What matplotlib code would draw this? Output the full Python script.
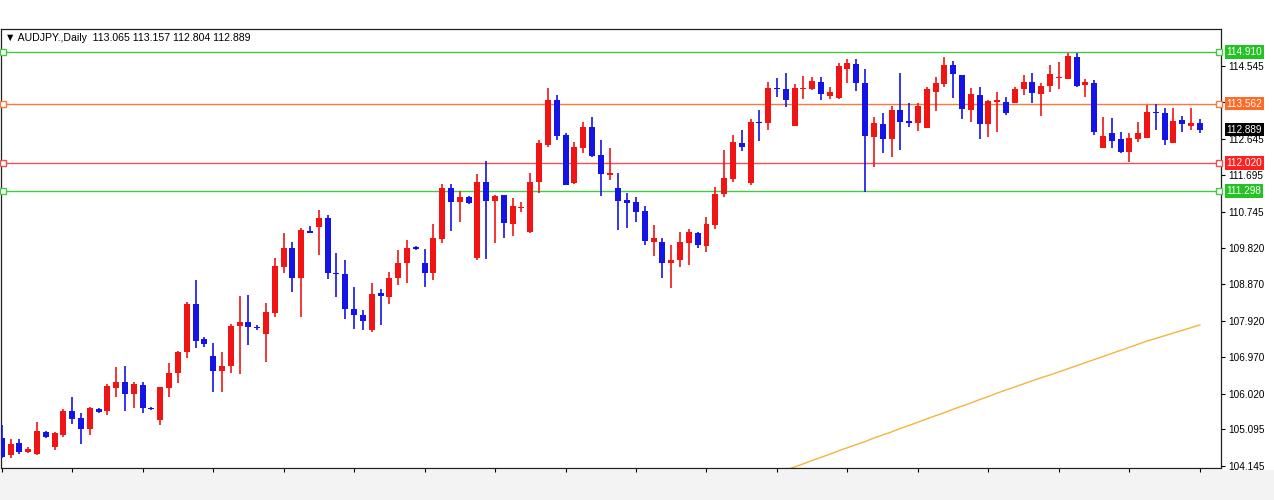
import numpy as np
import matplotlib.pyplot as plt
from matplotlib.patches import Rectangle
from matplotlib.transforms import blended_transform_factory

plt.rcParams['font.family'] = ['Liberation Sans', 'DejaVu Sans']

# AUDJPY daily bars (open, high, low, close)
opens = [104.87, 104.43, 104.74, 104.51, 104.46, 105.03, 104.64, 104.95, 105.57, 105.39,
         105.11, 105.63, 105.57, 106.17, 106.33, 106.02, 106.25, 105.65, 105.34, 106.17,
         106.56, 107.11, 108.36, 107.45, 107.00, 106.61, 106.74, 107.78, 107.89, 107.76,
         107.58, 108.12, 109.32, 109.81, 109.03, 110.25, 110.36, 110.59, 109.16, 109.14,
         108.23, 108.07, 107.68, 108.64, 108.54, 109.03, 109.42, 109.84, 109.42, 109.16,
         110.05, 111.37, 111.01, 111.14, 109.55, 111.53, 111.03, 111.19, 110.44, 110.85,
         110.23, 111.53, 112.49, 113.66, 112.75, 111.50, 112.41, 112.96, 112.23, 111.71,
         111.37, 111.06, 111.01, 110.77, 109.97, 109.97, 109.42, 109.50, 109.94, 110.20,
         109.86, 110.41, 111.22, 111.61, 112.54, 111.50, 113.09, 113.06, 113.97, 113.95,
         112.98, 113.95, 113.95, 114.13, 113.76, 113.71, 114.47, 114.60, 114.10, 112.70,
         113.04, 112.65, 113.40, 113.11, 113.06, 112.93, 113.87, 114.08, 114.57, 114.31,
         113.40, 113.79, 113.04, 113.61, 113.61, 113.58, 113.95, 114.13, 113.82, 114.02,
         114.23, 114.21, 114.78, 114.05, 114.10, 112.41, 112.80, 112.65, 112.31, 112.65,
         112.67, 113.35, 113.32, 112.54, 113.14, 112.98, 113.065]
highs = [105.21, 104.85, 104.85, 104.64, 105.29, 105.05, 105.03, 105.63, 105.94, 105.52,
         105.68, 105.66, 106.28, 106.72, 106.74, 106.33, 106.33, 105.68, 106.20, 106.82,
         107.13, 108.41, 108.98, 107.50, 107.34, 107.11, 107.84, 108.56, 108.59, 107.81,
         108.38, 109.55, 110.20, 109.97, 110.33, 110.38, 110.80, 110.67, 109.68, 109.50,
         108.80, 108.20, 108.90, 108.75, 109.19, 109.76, 110.02, 109.87, 109.79, 110.44,
         111.48, 111.48, 111.29, 111.17, 111.74, 112.07, 111.19, 111.19, 111.11, 111.01,
         111.76, 112.62, 113.97, 113.79, 112.80, 112.57, 113.09, 113.22, 112.62, 112.41,
         111.76, 111.24, 111.14, 110.90, 110.41, 110.07, 109.89, 110.23, 110.31, 110.23,
         110.62, 111.40, 112.36, 112.75, 112.88, 113.17, 113.40, 114.13, 114.23, 114.36,
         114.08, 114.28, 114.26, 114.26, 114.00, 114.62, 114.73, 114.73, 114.47, 113.22,
         113.32, 113.50, 114.36, 113.58, 113.58, 114.00, 114.26, 114.78, 114.67, 114.31,
         113.97, 114.00, 113.66, 113.87, 113.74, 114.00, 114.31, 114.36, 114.10, 114.57,
         114.65, 114.88, 114.88, 114.21, 114.18, 113.22, 113.19, 112.83, 112.80, 113.09,
         113.53, 113.56, 113.45, 113.45, 113.24, 113.45, 113.157]
lows = [104.35, 104.35, 104.46, 104.48, 104.43, 104.88, 104.56, 104.90, 105.24, 104.72,
        104.95, 105.52, 105.47, 105.94, 105.57, 105.65, 105.52, 105.60, 105.21, 105.94,
        106.30, 106.95, 107.21, 107.24, 106.07, 106.07, 106.56, 106.54, 107.29, 107.68,
        106.85, 108.02, 109.16, 108.67, 108.02, 110.20, 109.63, 109.01, 108.54, 107.97,
        107.71, 107.68, 107.63, 107.81, 108.36, 108.85, 108.90, 109.76, 108.80, 108.98,
        109.94, 110.25, 110.49, 110.96, 109.50, 109.52, 109.94, 110.07, 110.12, 110.75,
        110.20, 111.24, 112.44, 112.62, 111.45, 111.48, 112.28, 112.18, 111.16, 111.58,
        110.28, 110.33, 110.49, 109.89, 109.60, 109.03, 108.77, 109.32, 109.37, 109.81,
        109.71, 110.31, 111.14, 111.53, 112.33, 111.45, 112.59, 112.88, 113.74, 113.48,
        112.98, 113.69, 113.92, 113.66, 113.69, 113.69, 114.10, 113.89, 111.27, 111.92,
        112.28, 112.18, 112.36, 112.96, 112.85, 112.93, 113.37, 114.00, 113.71, 113.17,
        113.09, 112.65, 112.70, 112.83, 113.27, 113.58, 113.79, 113.58, 113.24, 113.87,
        113.95, 114.21, 114.00, 113.74, 112.75, 112.41, 112.41, 112.28, 112.05, 112.57,
        112.67, 112.88, 112.49, 112.54, 112.83, 112.88, 112.804]
closes = [104.38, 104.72, 104.51, 104.59, 105.05, 104.90, 105.00, 105.57, 105.37, 105.11,
          105.65, 105.55, 106.22, 106.33, 106.02, 106.28, 105.65, 105.63, 106.20, 106.56,
          107.11, 108.36, 107.39, 107.32, 106.61, 106.74, 107.78, 107.89, 107.76, 107.73,
          108.15, 109.34, 109.81, 109.03, 110.28, 110.20, 110.59, 109.16, 109.14, 108.23,
          108.07, 107.91, 108.62, 108.56, 109.03, 109.42, 109.81, 109.79, 109.16, 110.07,
          111.37, 111.01, 111.14, 110.98, 111.53, 111.03, 111.16, 110.46, 110.90, 110.88,
          111.53, 112.54, 113.66, 112.72, 111.45, 112.44, 112.96, 112.20, 111.74, 111.76,
          111.03, 110.98, 110.75, 109.99, 110.07, 109.42, 109.50, 109.97, 110.23, 109.89,
          110.44, 111.22, 111.63, 112.57, 112.44, 113.09, 113.06, 113.97, 113.95, 113.66,
          113.97, 113.97, 114.15, 113.82, 113.87, 114.54, 114.62, 114.10, 112.72, 113.06,
          112.65, 113.40, 113.09, 113.06, 113.50, 113.95, 114.10, 114.57, 114.34, 113.43,
          113.82, 113.04, 113.63, 113.66, 113.32, 113.95, 114.13, 113.84, 114.02, 114.34,
          114.26, 114.80, 114.02, 114.13, 112.83, 112.72, 112.59, 112.31, 112.67, 112.80,
          113.35, 113.32, 112.62, 113.11, 113.04, 113.06, 112.889]

# moving average (only the visible tail, from bar 89)
ma_start = 89
ma_values = [104.04, 104.12, 104.20, 104.29, 104.37, 104.45, 104.54, 104.62, 104.70, 104.78,
             104.87, 104.95, 105.03, 105.12, 105.20, 105.28, 105.37, 105.45, 105.53, 105.62,
             105.70, 105.78, 105.87, 105.95, 106.04, 106.12, 106.20, 106.28, 106.36, 106.44,
             106.51, 106.59, 106.67, 106.75, 106.83, 106.91, 106.99, 107.07, 107.15, 107.23,
             107.31, 107.39, 107.46, 107.53, 107.60, 107.67, 107.74, 107.81]

# horizontal levels
levels = [114.910, 113.562, 112.020, 111.298]
level_line_colors = ['#46c846', '#f57a3c', '#f05050', '#46c846']
level_box_colors = ['#22c322', '#ff6a26', '#ff2020', '#22c322']

price_ticks = [114.545, 113.595, 112.645, 111.695, 110.745, 109.820, 108.870,
               107.920, 106.970, 106.020, 105.095, 104.145]
price_tick_labels = ['114.545', '', '112.645', '111.695', '110.745', '109.820', '108.870',
                     '107.920', '106.970', '106.020', '105.095', '104.145']

o = np.array(opens)
h = np.array(highs)
l = np.array(lows)
c = np.array(closes)
x = np.arange(len(o))
cols = np.where(c >= o, '#f01414', '#1414e6')

fig = plt.figure(figsize=(12.74, 5.0), dpi=100)
fig.patch.set_facecolor('white')
fig.patches.append(Rectangle((0, 0), 1, 30 / 500, transform=fig.transFigure,
                             facecolor='#f3f3f3', edgecolor='none', zorder=-5))
ax = fig.add_axes([1 / 1274, 32.5 / 500, 1220 / 1274, 438 / 500])

ax.vlines(x, l, h, colors=cols, linewidth=1.2, zorder=3)
body = np.maximum(np.abs(c - o), 0.03)
ax.bar(x, body, bottom=np.minimum(o, c), width=0.68, color=cols, linewidth=0, zorder=4)

ax.plot(np.arange(ma_start, ma_start + len(ma_values)), ma_values,
        color='#f5b43c', linewidth=1.0, zorder=2)

tr = blended_transform_factory(ax.transAxes, ax.transData)
for lev, lc, bc in zip(levels, level_line_colors, level_box_colors):
    ax.axhline(lev, color=lc, linewidth=1.0, zorder=1)
    ax.plot([0.0015, 0.9985], [lev, lev], 's', transform=tr, ms=4, mfc='white',
            mec=lc, mew=1.0, clip_on=False, zorder=5)
    ax.text(1.0045, lev, f'{lev:.3f}', transform=tr, color='white', fontsize=7.2,
            va='center', ha='left', zorder=6, clip_on=False,
            bbox=dict(boxstyle='square,pad=0.18', facecolor=bc, edgecolor='none'))

ax.text(1.0045, c[-1], f'{c[-1]:.3f}', transform=tr, color='white', fontsize=7.2,
        va='center', ha='left', zorder=6, clip_on=False,
        bbox=dict(boxstyle='square,pad=0.18', facecolor='black', edgecolor='none'))

ax.text(0.003, 0.981, '\u25bc AUDJPY.,Daily  113.065 113.157 112.804 112.889',
        transform=ax.transAxes, fontsize=7.6, va='center', ha='left',
        family=['Liberation Sans', 'DejaVu Sans'])

ax.set_xlim(-0.08, 138.4)
ax.set_ylim(104.105, 115.49)
ax.yaxis.tick_right()
ax.set_yticks(price_ticks)
ax.set_yticklabels(price_tick_labels)
ax.set_xticks(np.arange(0, len(o), 8))
ax.set_xticklabels([])
ax.tick_params(axis='both', direction='out', length=3, width=0.8, labelsize=7.2, pad=2)
for s in ax.spines.values():
    s.set_linewidth(0.9)
    s.set_color('#202020')

fig.savefig('out.png', dpi=100, facecolor=fig.get_facecolor())
